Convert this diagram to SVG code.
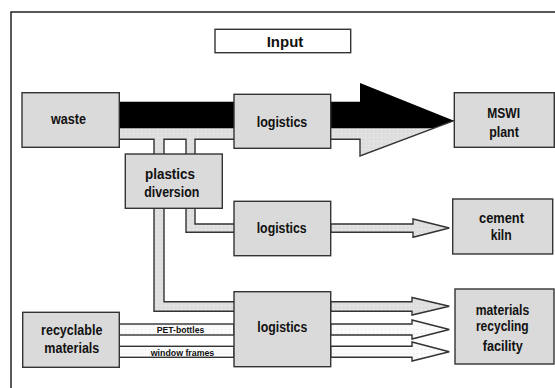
<svg xmlns="http://www.w3.org/2000/svg" width="555" height="388" viewBox="0 0 555 388">
<defs>
<pattern id="gdots" width="4" height="4" patternUnits="userSpaceOnUse">
<rect width="4" height="4" fill="#dedede"/>
<rect x="1" y="1" width="1" height="1" fill="#f2f2f2"/>
</pattern>
<pattern id="wdots" width="4" height="4" patternUnits="userSpaceOnUse">
<rect width="4" height="4" fill="#fbfbfb"/>
<rect x="1" y="1" width="1" height="1" fill="#e2e2e2"/>
</pattern>
</defs>
<style>
.box{fill:#dadada;stroke:#333;stroke-width:1.4}
.ibox{fill:#fff;stroke:#333;stroke-width:1.4}
.t{font-family:"Liberation Sans",Arial,sans-serif;font-weight:bold;font-size:15px;fill:#111;text-anchor:middle}
.s{font-family:"Liberation Sans",Arial,sans-serif;font-weight:bold;font-size:9.5px;fill:#111;text-anchor:middle}
.ln{fill:none;stroke:#333;stroke-width:1.4}
.pipe{fill:url(#gdots);stroke:none}
.arr{fill:url(#gdots);stroke:#333;stroke-width:1.4}
.warr{fill:url(#wdots);stroke:#333;stroke-width:1.4}
</style>
<rect x="11" y="12" width="560" height="400" fill="#fff" stroke="#222" stroke-width="1.5"/>
<g id="connectors">
<polygon class="pipe" points="119,101.7 360,101.7 360,83 454,120.7 360,156 360,139.3 119,139.3"/>
<rect class="pipe" x="154" y="138" width="10" height="17"/>
<rect class="pipe" x="186" y="138" width="9" height="17"/>
<polygon fill="#000" points="119,101.7 360,101.7 360,83 454,120.7 433,128.3 119,128.3"/>
<polyline class="ln" points="119,139.3 154,139.3 154,154"/>
<polyline class="ln" points="164,154 164,139.3 186,139.3 186,154"/>
<polyline class="ln" points="195,154 195,139.3 234,139.3"/>
<polyline class="ln" points="330.7,139.3 360,139.3 360,156 454,120.7"/>
<polygon class="pipe" points="154,208 164,208 164,301.7 234,301.7 234,311.3 154,311.3"/>
<polyline class="ln" points="154,208 154,311.3 234,311.3"/>
<polyline class="ln" points="164,208 164,301.7 234,301.7"/>
<polygon class="pipe" points="186,208 195,208 195,224 234,224 234,232.3 186,232.3"/>
<polyline class="ln" points="186,208 186,232.3 234,232.3"/>
<polyline class="ln" points="195,208 195,224 234,224"/>
<polygon class="arr" points="330.7,224 413,224 413,219 449.3,228 413,237.3 413,232.3 330.7,232.3"/>
<polygon class="arr" points="330.7,301.7 412,301.7 412,297.5 449.3,306.2 412,315 412,311.3 330.7,311.3"/>
<polygon class="warr" points="330.7,324 412,324 412,320 449.3,329.5 412,339 412,335 330.7,335"/>
<polygon class="warr" points="330.7,346.3 412,346.3 412,342 449.3,351.8 412,361 412,357.3 330.7,357.3"/>
<rect class="warr" x="119.3" y="324" width="114.7" height="11"/>
<rect class="warr" x="119.3" y="346.3" width="114.7" height="11"/>
<text class="s" x="180.5" y="333.3" textLength="47.5" lengthAdjust="spacingAndGlyphs">PET-bottles</text>
<text class="s" x="182.5" y="355.7" textLength="63.5" lengthAdjust="spacingAndGlyphs">window frames</text>
</g>
<g id="input">
<rect class="ibox" x="215" y="29.3" width="135.7" height="23.4"/>
<text class="t" x="285" y="46.5" textLength="36.6" lengthAdjust="spacingAndGlyphs">Input</text>
</g>
<g id="waste">
<rect class="box" x="22" y="92.7" width="97.3" height="54.6"/>
<text class="t" x="68.5" y="124.3" textLength="35" lengthAdjust="spacingAndGlyphs">waste</text>
</g>
<g id="logistics1">
<rect class="box" x="234" y="94.3" width="96.7" height="54"/>
<text class="t" x="282" y="126.5" textLength="50.6" lengthAdjust="spacingAndGlyphs">logistics</text>
</g>
<g id="mswi">
<rect class="box" x="454.3" y="92.7" width="100" height="54.6"/>
<text class="t" x="503.7" y="118.3" textLength="32.7" lengthAdjust="spacingAndGlyphs">MSWI</text>
<text class="t" x="504" y="136.7" textLength="29.7" lengthAdjust="spacingAndGlyphs">plant</text>
</g>
<g id="plastics">
<rect class="box" x="125.3" y="154" width="97" height="54.3"/>
<text class="t" x="170" y="179.3" textLength="50" lengthAdjust="spacingAndGlyphs">plastics</text>
<text class="t" x="171.8" y="196.7" textLength="55" lengthAdjust="spacingAndGlyphs">diversion</text>
</g>
<g id="logistics2">
<rect class="box" x="234" y="201.3" width="96.7" height="54.4"/>
<text class="t" x="281.7" y="233" textLength="50" lengthAdjust="spacingAndGlyphs">logistics</text>
</g>
<g id="cement">
<rect class="box" x="452.7" y="199" width="100" height="55"/>
<text class="t" x="501.5" y="223.3" textLength="45" lengthAdjust="spacingAndGlyphs">cement</text>
<text class="t" x="501.2" y="240" textLength="21" lengthAdjust="spacingAndGlyphs">kiln</text>
</g>
<g id="logistics3">
<rect class="box" x="234" y="291.7" width="96.7" height="75"/>
<text class="t" x="282.3" y="332.3" textLength="50" lengthAdjust="spacingAndGlyphs">logistics</text>
</g>
<g id="recyclable">
<rect class="box" x="22.7" y="312.3" width="96.6" height="55"/>
<text class="t" x="71.7" y="335" textLength="61.3" lengthAdjust="spacingAndGlyphs">recyclable</text>
<text class="t" x="71.8" y="353.3" textLength="55" lengthAdjust="spacingAndGlyphs">materials</text>
</g>
<g id="mrf">
<rect class="box" x="455" y="289" width="99" height="75"/>
<text class="t" x="502.5" y="314.7" textLength="53.6" lengthAdjust="spacingAndGlyphs">materials</text>
<text class="t" x="502.3" y="331.3" textLength="52.7" lengthAdjust="spacingAndGlyphs">recycling</text>
<text class="t" x="502.7" y="350.7" textLength="40" lengthAdjust="spacingAndGlyphs">facility</text>
</g>
</svg>
